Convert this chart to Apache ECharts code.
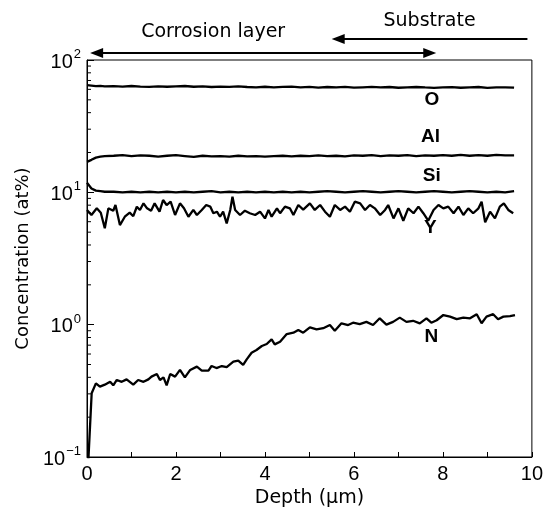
<!DOCTYPE html>
<html><head><meta charset="utf-8">
<script src="https://cdn.jsdelivr.net/npm/echarts@6/dist/echarts.min.js"></script>
<style>html,body{margin:0;padding:0;background:#fff}#c{width:546px;height:514px}</style>
</head><body><div id="c"></div>
<script>
// ---- data ----
const gridDepth = [0,0.1,0.2,0.3,0.4,0.6,0.8,1.0,1.2,1.4,1.6,1.8,2.0,2.2,2.4,2.6,2.8,3.0,3.2,3.4,3.6,3.8,4.0,4.2,4.4,4.6,4.8,5.0,5.2,5.4,5.6,5.8,6.0,6.2,6.4,6.6,6.8,7.0,7.2,7.4,7.6,7.8,8.0,8.2,8.4,8.6,8.8,9.0,9.2,9.4,9.6];
const oValues = [64.5,64,63.5,63.8,63.2, 63.5,63,63.6,63,62.6, 63.2,62.8,63.3,63.6,62.8, 63.2,62.5,63,62.6,63.2, 62.5,62.2,62.8,62.2,62.6, 63,62.2,62.6,61.8,62.5, 62.1,62.6,61.8,62.2,62.6, 62,62.5,61.7,62.1,62.5, 62,61.6,62.1,62.4,61.7, 62.2,62.5,61.6,62,62.2, 61.8];
const alValues = [17.0,17.6,18.3,18.6,18.8, 18.9,19.1,18.8,19.0,18.9, 18.6,18.9,19.1,18.8,18.5, 18.9,18.7,18.8,18.6,18.9, 18.7,18.8,18.6,18.8,18.9, 18.7,18.9,18.8,19.0,18.8, 18.9,18.7,19.0,18.9,19.1, 18.8,19.0,18.9,19.1,18.8, 19.0,18.9,19.1,18.9,19.2, 18.9,19.1,18.9,19.2,19.0, 19.0];
const siValues = [11.8,10.7,10.3,10.2,10.1, 10.1,10.0,10.1,10.0,10.1, 10.0,10.1,10.0,10.1,10.0, 10.1,10.2,10.0,10.1,10.0, 10.1,10.0,10.1,10.0,10.1, 10.0,10.1,10.0,10.1,10.2, 10.1,10.0,10.1,10.2,10.1, 10.0,10.1,10.2,10.1,10.0, 10.1,10.2,10.1,10.0,10.1, 10.2,10.1,10.0,10.1,10.0, 10.2];
const yDepth = [0.0,0.1,0.22,0.31,0.40,0.48,0.59,0.64,0.74,0.85,0.96,1.04,1.12,1.19,1.27,1.35,1.44,1.52,1.63,1.71,1.79,1.88,1.98,2.09,2.18,2.28,2.39,2.47,2.58,2.68,2.77,2.84,2.92,2.99,3.06,3.14,3.22,3.27,3.33,3.44,3.55,3.66,3.78,3.89,4.0,4.08,4.15,4.27,4.34,4.45,4.56,4.64,4.75,4.86,5.01,5.12,5.24,5.35,5.46,5.57,5.69,5.80,5.91,6.02,6.14,6.25,6.36,6.47,6.59,6.70,6.77,6.89,7.0,7.11,7.22,7.34,7.45,7.56,7.67,7.79,7.90,8.01,8.12,8.24,8.35,8.46,8.57,8.68,8.80,8.87,8.95,9.06,9.17,9.28,9.37,9.47,9.58];
const yValues = [7.36,6.74,7.57,7.02,5.35,7.57,7.26,8.02,5.66,6.54,7.02,6.6,7.78,7.36,8.26,7.57,7.26,8.26,7.14,8.75,8.02,8.5,6.74,8.26,7.57,6.54,7.36,6.74,7.36,8.02,7.8,6.95,7.14,6.54,7.14,5.83,7.36,9.27,7.36,6.74,7.26,6.95,6.74,7.14,6.35,7.36,6.54,7.57,6.95,7.8,7.57,6.74,8.02,7.4,8.26,7.36,8.02,7.14,6.54,8.02,7.36,7.8,7.14,8.5,8.26,7.36,8.02,7.57,6.74,7.36,8.02,6.35,7.57,6.1,7.57,6.95,7.8,6.95,6.1,7.36,8.02,7.57,7.8,6.95,7.8,6.74,7.57,6.95,7.57,8.5,5.94,7.14,6.35,7.8,8.26,7.36,6.95];
const nDepth = [0.02,0.105,0.2,0.29,0.40,0.52,0.59,0.67,0.78,0.89,1.04,1.15,1.27,1.38,1.45,1.57,1.64,1.72,1.79,1.87,1.98,2.09,2.2,2.32,2.47,2.58,2.73,2.80,2.91,3.03,3.14,3.29,3.40,3.51,3.59,3.70,3.81,3.93,4.04,4.15,4.22,4.34,4.49,4.64,4.75,4.86,5.01,5.16,5.31,5.46,5.57,5.72,5.87,5.98,6.13,6.28,6.43,6.58,6.73,6.88,7.03,7.18,7.33,7.48,7.63,7.74,7.86,8.01,8.16,8.31,8.46,8.61,8.76,8.87,8.98,9.13,9.24,9.36,9.51,9.62];
const nValues = [0.08,0.303,0.36,0.34,0.352,0.37,0.348,0.382,0.37,0.386,0.352,0.382,0.37,0.386,0.405,0.424,0.382,0.40,0.348,0.424,0.405,0.455,0.40,0.455,0.482,0.45,0.45,0.487,0.47,0.487,0.477,0.525,0.535,0.496,0.547,0.614,0.644,0.69,0.714,0.775,0.71,0.743,0.85,0.87,0.912,0.87,0.955,0.923,0.94,0.994,0.90,1.024,0.994,1.035,1.01,1.05,0.994,1.117,1.0,1.05,1.13,1.05,1.07,1.024,1.117,1.035,1.08,1.183,1.15,1.10,1.13,1.117,1.2,1.024,1.15,1.2,1.10,1.15,1.16,1.183];
const xTickValues = [0,2,4,6,8,10];
const yMinorTicks = [0.2,0.3,0.4,0.5,0.6,0.7,0.8,0.9,2,3,4,5,6,7,8,9,20,30,40,50,60,70,80,90];
const elementLabels = ['O','Al','Si','Y','N'];
const labelDepth = [7.75,7.72,7.75,7.72,7.74];
const labelConc = [49.9,26.2,13.3,5.38,0.807];
const regionNames = ['Corrosion layer','Substrate'];
const corrosionSpan = [0.07,7.85];
const substrateSpan = [5.5,9.9];

const pairs = (xs, ys) => xs.map((x, i) => [x, ys[i]]);
const lineStyle = {color:'#000', width:2.3};
const mkLine = (name, xs, ys) => ({
  type:'line', name, data: pairs(xs, ys), showSymbol:false, symbol:'none',
  lineStyle, itemStyle:{color:'#000'}, clip:true, animation:false, z:3
});

const chart = echarts.init(document.getElementById('c'), null, {renderer:'canvas'});
const option = {
  backgroundColor:'#fff',
  animation:false,
  grid:{left:87, right:14, top:60, bottom:57, show:true, borderColor:'#000', borderWidth:1, backgroundColor:'transparent'},
  xAxis:{
    type:'value', min:0, max:10, interval:1,
    axisLine:{show:true, lineStyle:{color:'#000', width:1}},
    axisTick:{show:true, inside:true, length:5, lineStyle:{color:'#000'}},
    splitLine:{show:false},
    axisLabel:{color:'#000', fontFamily:'Liberation Sans', fontSize:20, margin:7,
      formatter:(v)=> xTickValues.indexOf(v) >= 0 ? String(v) : ''},
    name:'Depth (μm)', nameLocation:'middle', nameGap:29,
    nameTextStyle:{color:'#000', fontFamily:'DejaVu Sans', fontSize:19}
  },
  yAxis:{
    type:'log', logBase:10, min:0.1, max:100,
    axisLine:{show:true, lineStyle:{color:'#000', width:1}},
    axisTick:{show:true, inside:true, length:7, lineStyle:{color:'#000'}},
    splitLine:{show:false},
    axisLabel:{
      margin:6,
      formatter:(v)=>{
        const e = Math.round(Math.log10(v));
        return '{b|10}{s|' + (e < 0 ? '\u2212' + (-e) : e) + '}';
      },
      rich:{
        b:{color:'#000', fontFamily:'Liberation Sans', fontSize:20, lineHeight:24, verticalAlign:'bottom'},
        s:{color:'#000', fontFamily:'Liberation Sans', fontSize:13, lineHeight:24, verticalAlign:'top', padding:[0,0,0,1]}
      }
    },
    name:'Concentration (at%)', nameLocation:'middle', nameGap:50, nameRotate:90,
    nameTextStyle:{color:'#000', fontFamily:'DejaVu Sans', fontSize:18}
  },
  series:[
    mkLine('O', gridDepth, oValues),
    mkLine('Al', gridDepth, alValues),
    mkLine('Si', gridDepth, siValues),
    mkLine('Y', yDepth, yValues),
    mkLine('N', nDepth, nValues),
    {
      type:'custom', coordinateSystem:'cartesian2d', silent:true, clip:false, z:2,
      data: yMinorTicks.map(v => [0, v]),
      renderItem:(params, api) => {
        const p = api.coord([api.value(0), api.value(1)]);
        return {type:'line', shape:{x1:p[0], y1:p[1], x2:p[0]+4, y2:p[1]}, style:{stroke:'#000', lineWidth:1}};
      }
    }
  ]
};
chart.setOption(option);

// annotations positioned through the chart's own scales
const px = (d, c) => chart.convertToPixel({gridIndex:0}, [d, c]);
const graphics = [];
elementLabels.forEach((t, i) => {
  const p = px(labelDepth[i], labelConc[i]);
  graphics.push({type:'text', x:p[0], y:p[1], z:10,
    style:{text:t, fill:'#000', font:'bold 19px "Liberation Sans"', textAlign:'center', textVerticalAlign:'middle'}});
});
const arrowHead = (tipX, y, dir) => ({
  type:'polygon', z:10,
  shape:{points:[[tipX, y], [tipX - dir*13, y - 5], [tipX - dir*13, y + 5]]},
  style:{fill:'#000'}
});
const cA = px(corrosionSpan[0], 1)[0], cB = px(corrosionSpan[1], 1)[0];
const sA = px(substrateSpan[0], 1)[0], sB = px(substrateSpan[1], 1)[0];
const yC = 53, yS = 39;
graphics.push({type:'line', z:10, shape:{x1:cA+6, y1:yC, x2:cB-6, y2:yC}, style:{stroke:'#000', lineWidth:2}});
graphics.push(arrowHead(cA, yC, -1));
graphics.push(arrowHead(cB, yC, 1));
graphics.push({type:'line', z:10, shape:{x1:sA+6, y1:yS, x2:sB, y2:yS}, style:{stroke:'#000', lineWidth:2}});
graphics.push(arrowHead(sA, yS, -1));
graphics.push({type:'text', x:(cA+cB)/2 - 50, y:32, z:10,
  style:{text:regionNames[0], fill:'#000', font:'19px "DejaVu Sans"', textAlign:'center', textVerticalAlign:'middle'}});
graphics.push({type:'text', x:(sA+sB)/2, y:21, z:10,
  style:{text:regionNames[1], fill:'#000', font:'19px "DejaVu Sans"', textAlign:'center', textVerticalAlign:'middle'}});
chart.setOption({graphic:graphics});
</script>
</body></html>
